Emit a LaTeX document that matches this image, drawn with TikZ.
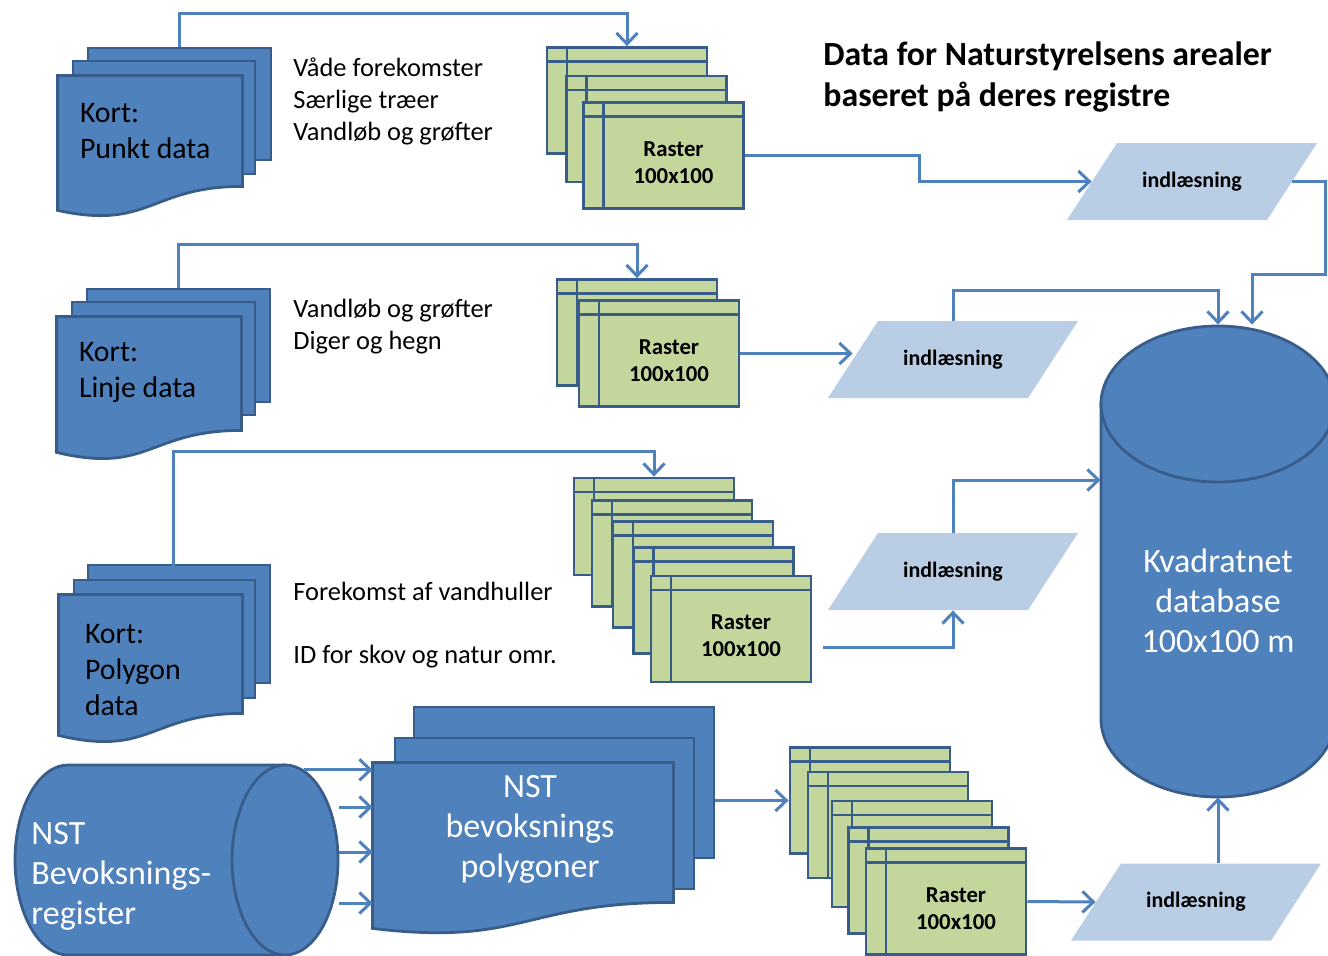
\documentclass[tikz,border=0pt]{standalone}
\usepackage{fontspec}
\setmainfont{Carlito}
\usetikzlibrary{arrows.meta,calc,positioning,shapes.geometric}
\definecolor{nsblue}{RGB}{79,129,189}
\definecolor{nsline}{RGB}{56,93,138}
\definecolor{nsgreen}{RGB}{195,214,155}
\definecolor{nspale}{RGB}{185,205,229}

\begin{document}
\begin{tikzpicture}[x=.5pt,y=-.5pt,>={Straight Barb[length=5.5pt,width=10.5pt]},
    sheet/.style={draw=nsline,fill=nsblue,line width=1.4pt,inner sep=0pt},
    docline/.style={draw=nsline,fill=nsblue,line width=1.4pt},
    frame/.style={inner sep=0pt},
    raster/.style={draw=nsline,fill=nsgreen,line width=1.4pt,inner sep=0pt,
      minimum width=80pt,minimum height=53pt,
      path picture={
        \draw[nsline,line width=1.4pt]
          ([yshift=-7pt]path picture bounding box.north west) -- ([yshift=-7pt]path picture bounding box.north east)
          ([xshift=10pt]path picture bounding box.north west) -- ([xshift=10pt]path picture bounding box.south west);}},
    rtxt/.style={font=\fontsize{11.4}{13.5}\selectfont\bfseries,align=center,inner sep=0pt},
    load/.style={inner sep=0pt,minimum width=125pt,minimum height=38.5pt,
      font=\fontsize{11}{13}\selectfont\bfseries,
      path picture={
        \fill[nspale] (path picture bounding box.south west) -- ([xshift=-25pt]path picture bounding box.south east)
          -- (path picture bounding box.north east) -- ([xshift=25pt]path picture bounding box.north west) -- cycle;}},
    kortxt/.style={font=\fontsize{14.9}{18}\selectfont,align=left,anchor=west,inner sep=0pt},
    lbl/.style={font=\fontsize{13.2}{16}\selectfont,align=left,anchor=west,inner sep=0pt},
    wtxt/.style={text=white,font=\fontsize{17}{20}\selectfont,inner sep=0pt},
    conn/.style={->,nsblue,line width=1.5pt}]
  \useasboundingbox (0,0) rectangle (1328,955);

  % title
  \node[font=\fontsize{16.9}{20.5}\selectfont\bfseries,align=left,anchor=west,inner sep=0pt]
    (title) at (823,76.5) {Data for Naturstyrelsens arealer\\baseret på deres registre};

  % kort: punkt data
  \node[sheet,minimum width=91.5pt,minimum height=56pt] (k1c) at (179.5,104) {};
  \node[sheet,minimum width=91pt,minimum height=56.5pt] (k1b) at (164,117.5) {};
  \node[frame,minimum width=92pt,minimum height=55pt] (k1a) at (150,131) {};
  \draw[docline] (k1a.north west) -- (k1a.north east) -- (k1a.south east)
    .. controls (k1a.south) and ([yshift=-22pt]k1a.south) .. ([yshift=-12pt]k1a.south west) -- cycle;
  \node[kortxt] (k1t) at ([xshift=11pt]k1a.west) {Kort:\\Punkt data};
  \node[lbl] (l1) at (293,101) {Våde forekomster\\Særlige træer\\Vandløb og grøfter};

  % kort: linje data
  \node[sheet,minimum width=91.5pt,minimum height=56.5pt] (k2c) at (178.5,345.5) {};
  \node[sheet,minimum width=91.5pt,minimum height=56.5pt] (k2b) at (163.5,358.5) {};
  \node[frame,minimum width=92pt,minimum height=56.5pt] (k2a) at (149,373.5) {};
  \draw[docline] (k2a.north west) -- (k2a.north east) -- (k2a.south east)
    .. controls (k2a.south) and ([yshift=-22pt]k2a.south) .. ([yshift=-11pt]k2a.south west) -- cycle;
  \node[kortxt] (k2t) at ([xshift=11pt,yshift=0.5pt]k2a.west) {Kort:\\Linje data};
  \node[lbl] (l2) at (293,327) {Vandløb og grøfter\\Diger og hegn};

  % kort: polygon data
  \node[sheet,minimum width=91pt,minimum height=59pt] (k3c) at (179,624) {};
  \node[sheet,minimum width=90.5pt,minimum height=59pt] (k3b) at (164.5,639) {};
  \node[frame,minimum width=91.5pt,minimum height=59pt] (k3a) at (150.5,654) {};
  \draw[docline] (k3a.north west) -- (k3a.north east) -- (k3a.south east)
    .. controls (k3a.south) and ([yshift=-22pt]k3a.south) .. ([yshift=-11pt]k3a.south west) -- cycle;
  \node[kortxt] (k3t) at ([xshift=13pt,yshift=-8pt]k3a.west) {Kort:\\Polygon\\data};
  \node[lbl] (l3) at (293,625.5) {Forekomst af vandhuller\\[15.5pt]ID for skov og natur omr.};

  % raster stacks
  \node[raster] (r1c) at (627,100.5) {};
  \node[raster] (r1b) at (646.5,129) {};
  \node[raster] (r1a) at (663.5,155.5) {};
  \node[rtxt] (r1t) at ([shift={(5pt,-3.5pt)}]r1a.center) {Raster\\100x100};

  \node[raster] (r2b) at (637,332.5) {};
  \node[raster] (r2a) at (659,353.5) {};
  \node[rtxt] (r2t) at ([shift={(5pt,-3.5pt)}]r2a.center) {Raster\\100x100};

  \node[raster,minimum height=48.5pt] (r3e) at (654,526.5) {};
  \node[raster] (r3d) at (672,553.5) {};
  \node[raster] (r3c) at (693,574.5) {};
  \node[raster] (r3b) at (713.5,600.5) {};
  \node[raster] (r3a) at (731,629) {};
  \node[rtxt] (r3t) at ([shift={(5pt,-3.5pt)}]r3a.center) {Raster\\100x100};

  \node[raster] (r4e) at (870,800.5) {};
  \node[raster] (r4d) at (888,825) {};
  \node[raster] (r4c) at (912,854) {};
  \node[raster] (r4b) at (928.5,880.5) {};
  \node[raster] (r4a) at (946,901.5) {};
  \node[rtxt] (r4t) at ([shift={(5pt,-3.5pt)}]r4a.center) {Raster\\100x100};

  % indlaesning
  \node[load] (p1) at (1192,181.5) {indlæsning};
  \node[load] (p2) at (953,359.5) {indlæsning};
  \node[load] (p3) at (953,571.5) {indlæsning};
  \node[load] (p4) at (1196,902) {indlæsning};

  % kvadratnet database
  \draw[docline] (1101,404) -- (1101,719) arc[start angle=180,end angle=360,x radius=58.5pt,y radius=39pt]
    -- (1335,404) -- cycle;
  \draw[docline] (1218,404) ellipse [x radius=58.5pt,y radius=39pt];
  \node[frame,minimum width=117pt,minimum height=236pt] (db) at (1218,561) {};
  \node[wtxt,align=center] (dbt) at (1218,601) {Kvadratnet\\database\\100x100 m};

  % NST register
  \draw[docline] (285,765) -- (68,765) arc[start angle=90,end angle=270,x radius=26.5pt,y radius=47.5pt]
    -- (285,955) -- cycle;
  \node[ellipse,draw=nsline,fill=nsblue,line width=1.4pt,minimum width=53pt,minimum height=95pt,inner sep=0pt]
    (regend) at (285,860) {};
  \node[wtxt,align=left,anchor=west] (regt) at (31,876) {NST\\Bevoksnings-\\register};

  % NST polygoner
  \node[sheet,minimum width=150pt,minimum height=75.5pt] (np3) at (564,782.5) {};
  \node[sheet,minimum width=149.5pt,minimum height=75.5pt] (np2) at (544.5,813.5) {};
  \node[frame,minimum width=150pt,minimum height=69.5pt] (np1) at (523,832.5) {};
  \draw[docline] (np1.north west) -- (np1.north east) -- (np1.south east)
    .. controls (np1.south) and ([yshift=-22pt]np1.south) .. ([yshift=-13pt]np1.south west) -- cycle;
  \node[wtxt,align=center] (npt) at ([shift={(3.5pt,1.75pt)}]np1.center) {NST\\bevoksnings\\polygoner};

  % connectors
  \draw[conn] (k1c.north) -- ++(0,-33) -| (r1c.north);
  \draw[conn] (k2c.north) -- ++(0,-43) -| (r2b.north);
  \draw[conn] ([xshift=4.5pt]k3b.north) -- ++(0,-127) -| (r3e.north);
  \draw[conn] (r1a.east) -- ++(175,0) |- ([xshift=12.5pt]p1.west);
  \draw[conn] (r2a.east) -- ([xshift=12.5pt]r2a.east -| p2.west);
  \draw[conn] ([shift={(5.5pt,-9pt)}]r3a.east) -| (p3.south);
  \draw[conn] ([xshift=-12.5pt]p1.east) -- ++(33,0) -- ++(0,93) -| ([xshift=17pt]db.north);
  \draw[conn] (p2.north) -- ++(0,-30) -| (db.north);
  \draw[conn] (p3.north) |- ([yshift=40.5pt]db.west);
  \draw[conn] (p4.north -| db.south) -- (db.south);
  \draw[conn] (r4a.east) -- ([xshift=12.5pt]p4.west);
  \draw[conn] (np3.east |- r4e.west) -- (r4e.west);
  \draw[conn] (regend.78) -- (regend.78 -| np1.west);
  \draw[conn] ([yshift=26.5pt]regend.east) -- ([yshift=26.5pt]regend.east -| np1.west);
  \draw[conn] ([yshift=4pt]regend.east) -- ([yshift=4pt]regend.east -| np1.west);
  \draw[conn] ([yshift=-21.5pt]regend.east) -- ([yshift=-21.5pt]regend.east -| np1.west);
\end{tikzpicture}
\end{document}
